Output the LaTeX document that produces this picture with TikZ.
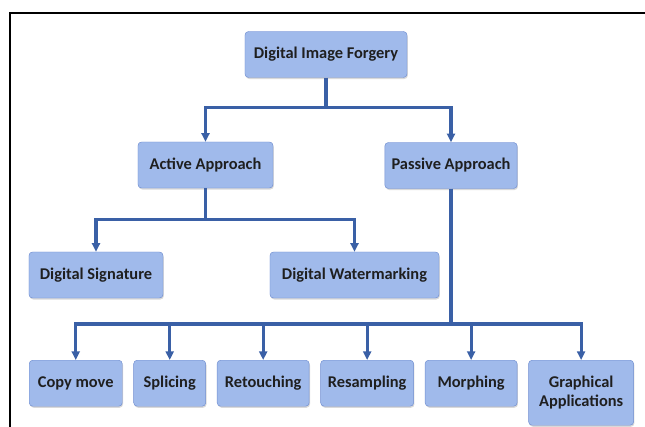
\documentclass[tikz,border=0pt]{standalone}
\usepackage{fontspec}
\setmainfont{Carlito}
\usetikzlibrary{arrows.meta,positioning,shadows}

\definecolor{boxfill}{RGB}{160,186,235}
\definecolor{boxline}{RGB}{112,142,208}
\definecolor{wire}{RGB}{58,96,166}

\begin{document}
\begin{tikzpicture}[
    x=0.03cm, y=-0.03cm,
    node distance=0.33cm,
    box/.style={draw=boxline, fill=boxfill, rounded corners=3pt, align=center,
      minimum height=1.38cm, inner xsep=0.2cm, text=black!88,
      font=\fontsize{14}{16}\selectfont\bfseries,
      drop shadow={shadow xshift=0.7pt, shadow yshift=-1.3pt, opacity=0.3}},
    arrow/.style={-{Triangle[length=2.6mm, width=2.4mm]}, line width=2.7pt, draw=wire}
  ]
    \useasboundingbox (0,0) rectangle (645,427);
    % open frame, top and left edges only
    \draw[line width=2pt] (10,427) -- (10,13) -- (645,13);

    \node[box, minimum width=4.86cm] (forgery) at (326,54.5) {Digital Image Forgery};
    \node[box, minimum width=4.05cm] (active) at (205.5,165) {Active Approach};
    \node[box, minimum width=3.96cm] (passive) at (451,165.5) {Passive Approach};
    \node[box, minimum width=4.02cm] (signature) at (96,275) {Digital Signature};
    \node[box, minimum width=5.07cm] (watermark) at (354.5,275) {Digital Watermarking};

    % passive branches
    \node[box, minimum width=2.79cm, anchor=north west] (copymove) at (29,360) {Copy move};
    \node[box, minimum width=2.16cm, right=of copymove] (splicing) {Splicing};
    \node[box, minimum width=2.76cm, right=of splicing] (retouching) {Retouching};
    \node[box, minimum width=2.79cm, right=of retouching] (resampling) {Resampling};
    \node[box, minimum width=2.76cm, right=of resampling] (morphing) {Morphing};
    \node[box, minimum width=3.15cm, minimum height=1.95cm,
      right=of morphing.north east, anchor=north west] (graphical) {Graphical\\Applications};

    \coordinate (topbus) at (326,107.5);
    \coordinate (activebus) at (205.5,219.5);
    \coordinate (passivebus) at (451,324);

    \draw[arrow] (forgery.south) -- (topbus) -| (active.north);
    \draw[arrow] (topbus) -| (passive.north);
    \draw[arrow] (active.south) -- (activebus) -| (signature.north);
    \draw[arrow] (activebus) -| (watermark.north);
    \draw[arrow] (passive.south) -- (passivebus) -| (copymove.north);
    \draw[arrow] (passivebus) -| (graphical.north);
    \foreach \n in {splicing,retouching,resampling,morphing}
      \draw[arrow] (passivebus -| \n.north) -- (\n.north);
  \end{tikzpicture}
\end{document}
